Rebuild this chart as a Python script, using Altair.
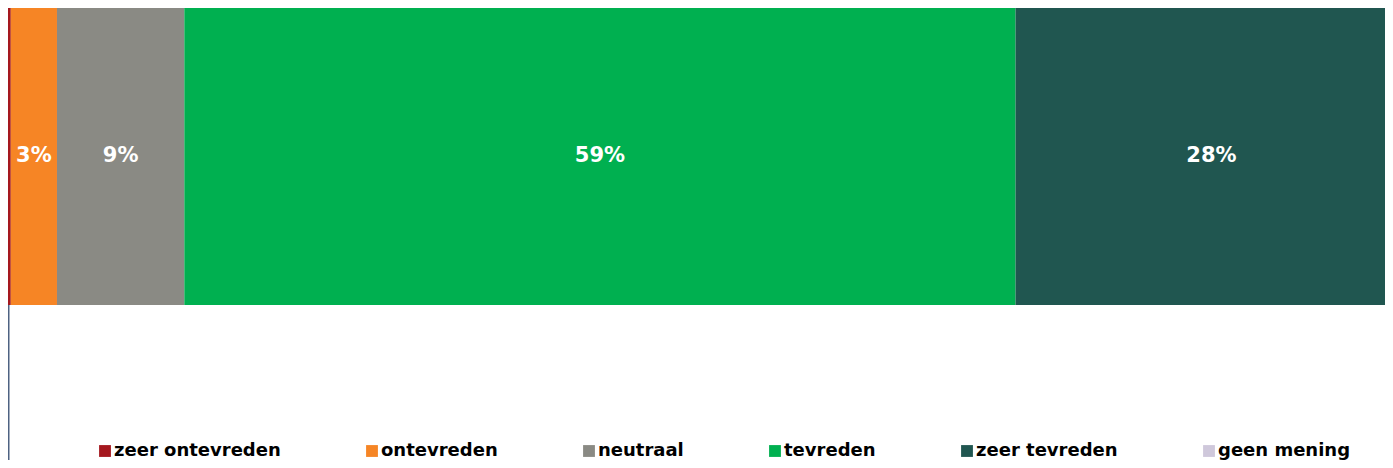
import altair as alt
import pandas as pd

categories = ["zeer ontevreden", "ontevreden", "neutraal", "tevreden", "zeer tevreden", "geen mening"]
values = [0.2, 3.3, 9.1, 59.4, 28.0, 0.0]
labels = ["", "3%", "9%", "59%", "28%", ""]
colors = ["#A5181E", "#F68525", "#8A8A84", "#00B050", "#205650", "#CFC8DB"]
row = "Totaal"

df = pd.DataFrame({
    "categorie": categories,
    "waarde": values,
    "label": labels,
    "volgorde": list(range(len(categories))),
    "rij": [row] * len(categories),
})

y_enc = alt.Y(
    "rij:N",
    scale=alt.Scale(domain=[row], paddingInner=0, paddingOuter=0.261, align=0),
    axis=alt.Axis(
        labels=False, ticks=False, title=None, grid=False,
        domain=True, domainColor="#4E6282", domainWidth=2,
    ),
)

x_scale = alt.Scale(domain=[0, 98.4], clamp=True, nice=False, zero=True)

bars = alt.Chart(df).mark_bar(strokeWidth=0).encode(
    x=alt.X("waarde:Q", stack="zero", scale=x_scale, axis=None),
    y=y_enc,
    color=alt.Color(
        "categorie:N",
        scale=alt.Scale(domain=categories, range=colors),
        sort=categories,
        legend=alt.Legend(
            title=None,
            orient="none",
            direction="horizontal",
            columns=6,
            legendX=88,
            legendY=434,
            symbolType="square",
            symbolSize=140,
            symbolStrokeWidth=0,
            symbolOpacity=1,
            labelFont="DejaVu Sans",
            labelFontWeight="bold",
            labelFontSize=18,
            labelColor="#000000",
            labelOffset=0,
            labelLimit=400,
            columnPadding=82,
            padding=0,
        ),
    ),
    order=alt.Order("volgorde:Q", sort="ascending"),
)

text = alt.Chart(df).transform_stack(
    stack="waarde", groupby=["rij"], as_=["x0", "x1"],
    sort=[alt.SortField("volgorde", order="ascending")],
).transform_calculate(
    mid="(datum.x0 + datum.x1) / 2"
).transform_filter(
    "datum.label != ''"
).mark_text(
    font="DejaVu Sans", fontWeight="bold", fontSize=21, color="white",
    align="center", baseline="middle",
).encode(
    x=alt.X("mid:Q", scale=x_scale, axis=None),
    y=y_enc,
    text="label:N",
)

chart = alt.layer(bars, text).properties(
    width=1377, height=452, padding=0,
    autosize=alt.AutoSizeParams(type="none"),
).configure_view(stroke=None).configure(background="white")

chart.save("out.html", embed_options={"renderer": "svg", "actions": False})
